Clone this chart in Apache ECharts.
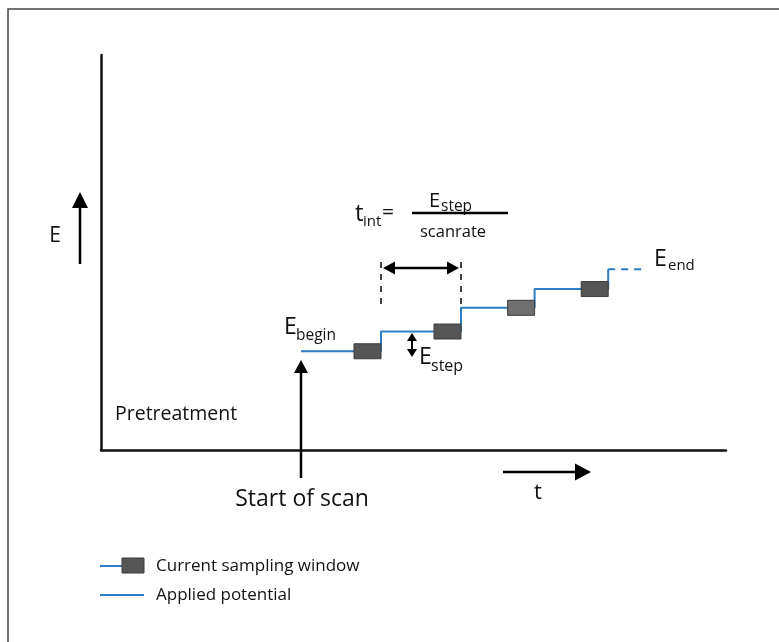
<!DOCTYPE html>
<html>
<head>
<meta charset="utf-8">
<script src="https://cdn.jsdelivr.net/npm/echarts@6/dist/echarts.min.js"></script>
<style>
  html, body { margin: 0; padding: 0; background: #fff; }
  #main { width: 779px; height: 642px; }
</style>
</head>
<body>
<div id="main"></div>
<script>
// one unit of time = one interval t_int, one unit of E = one E_step (roughly)
var startTime = 2.5;
var stepTimes = [3.5, 4.5, 5.42, 6.34];
var levels = [5, 6, 7.2, 8.15, 9.15];
var tailEnd = 6.8;
var windowShades = ['#555555', '#555555', '#6f6f6f', '#555555'];

var FONT = 'Open Sans';
var chart = echarts.init(document.getElementById('main'));

// staircase: start point, then one point per step (step: 'end' draws flat, then up)
var potential = [[startTime, levels[0]]];
stepTimes.forEach(function (t, i) { potential.push([t, levels[i + 1]]); });

// sampling window sits just before each step, on the old level
var windows = stepTimes.map(function (t, i) { return [t, levels[i]]; });

var axisStyle = { lineStyle: { color: '#111', width: 2.5 } };

chart.setOption({
    animation: false,
    grid: { left: 101, top: 55, width: 625, height: 395 },
    xAxis: {
        type: 'value', min: 0, max: 7.8125,
        axisLine: axisStyle, axisTick: { show: false },
        axisLabel: { show: false }, splitLine: { show: false }
    },
    yAxis: {
        type: 'value', min: 0, max: 20,
        axisLine: axisStyle, axisTick: { show: false },
        axisLabel: { show: false }, splitLine: { show: false }
    },
    series: [{
        name: 'Applied potential',
        type: 'line',
        step: 'end',
        data: potential,
        symbol: 'none',
        lineStyle: { color: '#2f7cc6', width: 2 }
    }, {
        type: 'line',
        data: [[stepTimes[stepTimes.length - 1], levels[levels.length - 1]], [tailEnd, levels[levels.length - 1]]],
        symbol: 'none',
        lineStyle: { color: '#2f7cc6', width: 2, type: [7, 6] }
    }, {
        name: 'Current sampling window',
        type: 'custom',
        z: 5,
        data: windows,
        renderItem: function (params, api) {
            var p = api.coord([api.value(0), api.value(1)]);
            return {
                type: 'rect',
                shape: { x: p[0] - 27, y: p[1] - 7.5, width: 27, height: 15 },
                style: { fill: windowShades[params.dataIndex], stroke: '#3c3c3c', lineWidth: 1 }
            };
        }
    }]
});

function px(t, e) { return chart.convertToPixel({ gridIndex: 0 }, [t, e]); }

function seg(x1, y1, x2, y2, w, dash) {
    return { type: 'line', silent: true, shape: { x1: x1, y1: y1, x2: x2, y2: y2 },
        style: { stroke: '#000', lineWidth: w, lineDash: dash || null } };
}
// arrow head with its tip at (x, y), pointing along (dx, dy)
function head(x, y, dx, dy, len, half) {
    var bx = x - dx * len, by = y - dy * len;
    return { type: 'polygon', silent: true,
        shape: { points: [[x, y], [bx - dy * half, by + dx * half], [bx + dy * half, by - dx * half]] },
        style: { fill: '#000' } };
}
function txt(x, y, s, size, align) {
    return { type: 'text', silent: true, x: x, y: y,
        style: { text: s, fontFamily: FONT, fontSize: size, fill: '#111',
            align: align || 'left', verticalAlign: 'middle' } };
}

var g = [];
// frame
g.push({ type: 'rect', silent: true, shape: { x: 8, y: 9, width: 800, height: 700 },
    style: { fill: 'none', stroke: '#444', lineWidth: 1.5 } });

// E arrow
g.push(seg(80, 264, 80, 204, 2.5), head(80, 192, 0, -1, 16, 8));
g.push(txt(55, 236, 'E', 21, 'center'));

// t arrow
g.push(seg(503, 472, 578, 472, 2.5), head(591, 472, 1, 0, 16, 8.5));
g.push(txt(538, 493, 't', 22, 'center'));

g.push(txt(115, 414, 'Pretreatment', 19.5));

// start of scan
var s0 = px(startTime, 0);
g.push(seg(s0[0], 478, s0[0], 370, 2.5), head(s0[0], 360, 0, -1, 13, 7));
g.push(txt(s0[0] + 1, 499, 'Start of scan', 23, 'center'));

// t_int interval marker between first two steps
var a = px(stepTimes[0], 0)[0], b = px(stepTimes[1], 0)[0];
g.push(seg(a, 262, a, 310, 1.5, [6, 6]), seg(b, 262, b, 310, 1.5, [6, 6]));
g.push(seg(a + 8, 268, b - 8, 268, 2.5), head(a + 2, 268, -1, 0, 12, 6.5), head(b - 2, 268, 1, 0, 12, 6.5));

// E_step double arrow
g.push(seg(412, 340, 412, 350, 2), head(412, 333, 0, -1, 8, 5), head(412, 357, 0, 1, 8, 5));

// labels with subscripts
g.push(txt(284, 327, 'E', 23), txt(296, 336, 'begin', 15.5));
g.push(txt(419, 357, 'E', 23), txt(431, 366, 'step', 16));
g.push(txt(654, 259, 'E', 23), txt(668, 266, 'end', 15));

// t_int = E_step / scanrate
g.push(txt(355, 214, 't', 24), txt(363, 222, 'int', 15), txt(382, 213, '=', 21));
g.push(seg(412, 213, 508, 213, 2.5));
g.push(txt(429, 201, 'E', 20), txt(441, 207, 'step', 15.5));
g.push(txt(453, 232, 'scanrate', 16.5, 'center'));

// legend
g.push({ type: 'line', silent: true, shape: { x1: 100, y1: 566, x2: 124, y2: 566 },
    style: { stroke: '#2f7cc6', lineWidth: 2 } });
g.push({ type: 'rect', silent: true, shape: { x: 122, y: 558, width: 22, height: 15 },
    style: { fill: '#555555', stroke: '#3c3c3c', lineWidth: 1 } });
g.push(txt(156, 566, 'Current sampling window', 17));
g.push({ type: 'line', silent: true, shape: { x1: 100, y1: 595, x2: 144, y2: 595 },
    style: { stroke: '#2f7cc6', lineWidth: 2 } });
g.push(txt(156, 595, 'Applied potential', 17));

chart.setOption({ graphic: g });
</script>
</body>
</html>
